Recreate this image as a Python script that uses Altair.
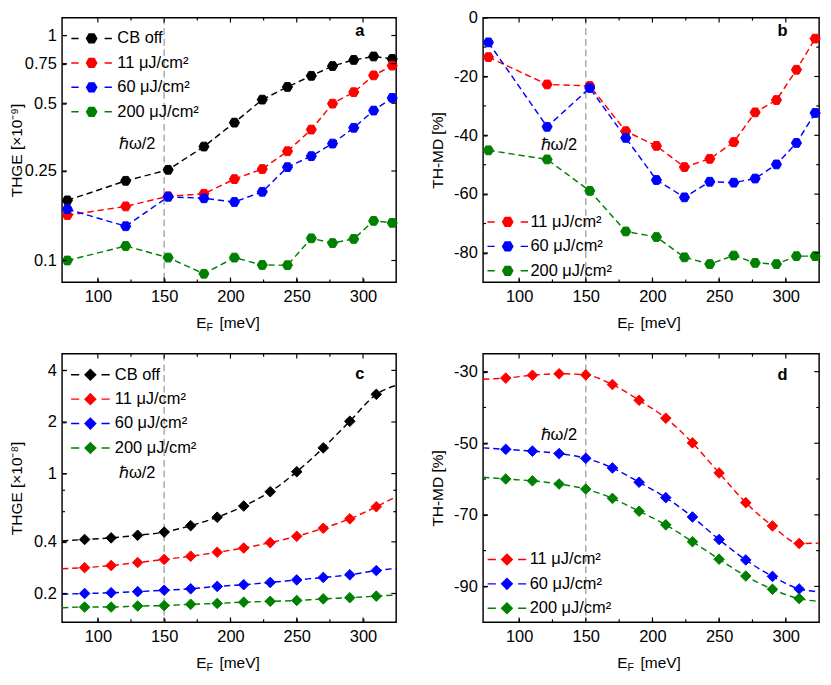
import altair as alt
import pandas as pd

FONT = "Liberation Sans"
SERIES = ["CB off", "11 μJ/cm²", "60 μJ/cm²", "200 μJ/cm²"]
COLORS = ["#000000", "#ff0000", "#0000ff", "#008000"]

# ---- panel a / b (measured) ----
ef_ab = [77, 121, 153, 180, 203, 224, 243, 261, 277, 293, 308, 322]
thge_a_off = [0.185, 0.226, 0.253, 0.321, 0.410, 0.519, 0.591, 0.662, 0.732, 0.779, 0.807, 0.787]
thge_a_11 = [0.159, 0.174, 0.193, 0.198, 0.230, 0.255, 0.306, 0.382, 0.498, 0.560, 0.665, 0.735]
thge_a_60 = [0.169, 0.142, 0.192, 0.189, 0.182, 0.202, 0.260, 0.291, 0.331, 0.389, 0.464, 0.528]
thge_a_200 = [0.100, 0.116, 0.103, 0.0873, 0.103, 0.0955, 0.0953, 0.1255, 0.1195, 0.1247, 0.150, 0.147]
md_b_11 = [-13.4, -22.7, -23.2, -38.6, -43.6, -50.8, -48.0, -42.3, -32.2, -28.0, -17.7, -7.1]
md_b_60 = [-8.4, -37.1, -23.9, -40.9, -55.2, -61.1, -55.8, -56.1, -54.7, -49.9, -42.6, -32.4]
md_b_200 = [-45.1, -48.2, -58.9, -72.7, -74.6, -81.5, -83.8, -80.9, -83.4, -83.8, -81.1, -81.1]

# ---- panel c / d (calculated) ----
ef_cd = [90, 110, 130, 150, 170, 190, 210, 230, 250, 270, 290, 310]
ef_cd_ends = [73, 325]
thge_c_off = [0.413, 0.422, 0.437, 0.456, 0.497, 0.557, 0.647, 0.784, 1.026, 1.413, 2.02, 2.90]
thge_c_11 = [0.283, 0.291, 0.303, 0.316, 0.330, 0.348, 0.368, 0.396, 0.431, 0.480, 0.545, 0.641]
thge_c_60 = [0.200, 0.202, 0.205, 0.209, 0.213, 0.220, 0.225, 0.232, 0.240, 0.248, 0.257, 0.272]
thge_c_200 = [0.1667, 0.1667, 0.169, 0.170, 0.173, 0.175, 0.178, 0.180, 0.182, 0.186, 0.189, 0.193]
thge_c_off_ends = [0.405, 3.27]
thge_c_11_ends = [0.279, 0.735]
thge_c_60_ends = [0.198, 0.280]
thge_c_200_ends = [0.165, 0.196]
md_d_11 = [-31.8, -31.0, -30.6, -30.9, -33.6, -38.0, -43.0, -49.9, -58.3, -66.6, -73.1, -78.0]
md_d_60 = [-51.7, -52.2, -52.9, -54.2, -56.9, -60.9, -65.2, -70.6, -76.9, -82.6, -87.2, -90.7]
md_d_200 = [-60.0, -60.5, -61.4, -62.8, -65.4, -69.0, -72.8, -77.5, -82.4, -87.1, -90.8, -93.4]
md_d_11_ends = [-32.1, -77.9]
md_d_60_ends = [-51.3, -91.5]
md_d_200_ends = [-59.5, -94.2]

# ---- tick values ----
X_MAJOR = [100, 150, 200, 250, 300]
X_MINOR = [125, 175, 225, 275]
Y_A_MAJOR = [0.1, 0.25, 0.5, 0.75, 1]
Y_B_LABELS = [-80, -60, -40, -20, 0]
Y_B_MAJOR = [-80, -60, -40, -20]
Y_B_MINOR = [-70, -50, -30, -10]
Y_C_MAJOR = [0.2, 0.4, 1, 2, 4]
Y_C_MINOR = [0.6, 0.8]
Y_D_MAJOR = [-90, -70, -50, -30]
Y_D_MINOR = [-80, -60, -40]

HEX = "M-1,0L-0.5,-0.866L0.5,-0.866L1,0L0.5,0.866L-0.5,0.866Z"
DIAM = "M-1,0L0,-1L1,0L0,1Z"
HEX_LEG = "M-4,0H-2.56M2.56,0H4" + HEX
DIAM_LEG = "M-3.65,0H-2.1M2.1,0H3.65" + DIAM


def long_df(xs, named):
    rows = []
    for name, vals in named:
        for x, v in zip(xs, vals):
            rows.append({"x": x, "y": v, "s": name})
    return pd.DataFrame(rows)


def with_ends(vals, ends):
    return [ends[0]] + list(vals) + [ends[1]]


def tick_layers(sx, sy, ymajor, yminor, W, H):
    out = []
    for vals, ln in ((X_MAJOR, 5), (X_MINOR, 3)):
        df = pd.DataFrame({"v": vals})
        base = alt.Chart(df).mark_rule(color="black", strokeWidth=1.2)
        out.append(base.encode(x=alt.X("v:Q", scale=sx, axis=None), y=alt.value(H), y2=alt.value(H - ln)))
        out.append(base.encode(x=alt.X("v:Q", scale=sx, axis=None), y=alt.value(0), y2=alt.value(ln)))
    for vals, ln in ((ymajor, 5), (yminor, 3)):
        if not vals:
            continue
        df = pd.DataFrame({"v": vals})
        base = alt.Chart(df).mark_rule(color="black", strokeWidth=1.2)
        out.append(base.encode(y=alt.Y("v:Q", scale=sy, axis=None), x=alt.value(0), x2=alt.value(ln)))
        out.append(base.encode(y=alt.Y("v:Q", scale=sy, axis=None), x=alt.value(W), x2=alt.value(W - ln)))
    return out


def panel(pts, line, series, ylog, ydom, ylabels, ymajor, yminor, ytitle, shape, legshape,
          msize, leg, ann_y, letter, letter_y, W, H, interp):
    sx = alt.Scale(domain=[73, 325], nice=False, zero=False)
    if ylog:
        sy = alt.Scale(type="log", domain=ydom, nice=False)
    else:
        sy = alt.Scale(domain=ydom, nice=False, zero=False)
    colors = [COLORS[SERIES.index(s)] for s in series]
    sc = alt.Scale(domain=series, range=colors)

    common = dict(grid=False, domain=False, offset=-4, tickSize=4, tickColor="black", tickWidth=1.2)
    ax_b = alt.Axis(orient="bottom", values=X_MAJOR, title=None, labelPadding=7,
                    labelExpr="'' + datum.value", **common)
    ax_l = alt.Axis(orient="left", values=ylabels, labelExpr="'' + datum.value", title=ytitle,
                    labelPadding=6, titleX=-43, titleY=H / 2, titleAngle=270,
                    titleBaseline="bottom", titleAlign="center", **common)

    rule = alt.Chart(pd.DataFrame({"x": [150]})).mark_rule(
        color="#a8a8a8", strokeDash=[7, 4], strokeWidth=1.5
    ).encode(x=alt.X("x:Q", scale=sx, axis=None))

    legend = alt.Legend(
        orient="none", legendX=0, legendY=leg["y"], title=None,
        symbolType=legshape, symbolSize=msize, symbolStrokeWidth=1.5,
        symbolOffset=leg["so"], labelOffset=leg["lo"], labelFont=FONT,
        labelFontSize=17, labelColor="black", rowPadding=7.3, padding=0,
        symbolOpacity=1, labelLimit=300, direction="vertical",
    )

    lines = alt.Chart(line).mark_line(
        strokeDash=[6.5, 4], strokeWidth=1.5, interpolate=interp
    ).encode(
        x=alt.X("x:Q", scale=sx, axis=ax_b),
        y=alt.Y("y:Q", scale=sy, axis=ax_l),
        stroke=alt.Stroke("s:N", scale=sc, legend=legend),
    )

    points = alt.Chart(pts).mark_point(
        shape=shape, size=msize, filled=True, opacity=1, strokeWidth=1
    ).encode(
        x=alt.X("x:Q", scale=sx, axis=None),
        y=alt.Y("y:Q", scale=sy, axis=None),
        fill=alt.Fill("s:N", scale=sc, legend=legend),
        stroke=alt.Stroke("s:N", scale=sc, legend=legend),
    )

    ann = alt.Chart(pd.DataFrame({"x": [150], "y": [ann_y], "t": ["ℏω/2"]})).mark_text(
        align="right", baseline="middle", dx=-9, font=FONT, fontSize=17, color="black"
    ).encode(x=alt.X("x:Q", scale=sx, axis=None), y=alt.Y("y:Q", scale=sy, axis=None), text="t:N")

    lab = alt.Chart(pd.DataFrame({"x": [297.6], "y": [letter_y], "t": [letter]})).mark_text(
        align="center", baseline="middle", font=FONT, fontSize=17, fontWeight="bold", color="black"
    ).encode(x=alt.X("x:Q", scale=sx, axis=None), y=alt.Y("y:Q", scale=sy, axis=None), text="t:N")

    def txt(t, xpos, ypos, size):
        return alt.Chart(pd.DataFrame({"t": [t]})).mark_text(
            align="left", baseline="alphabetic", font=FONT, fontSize=size, color="black"
        ).encode(x=alt.value(xpos), y=alt.value(ypos), text="t:N")

    xt = [txt("E", 139, H + 47, 16), txt("F", 149.5, H + 50.5, 11), txt("[meV]", 163, H + 47, 16)]
    layers = [rule, lines, points, ann, lab, *xt, *tick_layers(sx, sy, ymajor, yminor, W, H)]
    return alt.layer(*layers).resolve_axis(x="independent", y="independent").properties(width=W, height=H)


W1, W2 = 346, 348
H1, H2 = 274, 278

pts_a = long_df(ef_ab, [(SERIES[0], thge_a_off), (SERIES[1], thge_a_11), (SERIES[2], thge_a_60), (SERIES[3], thge_a_200)])
pts_b = long_df(ef_ab, [(SERIES[1], md_b_11), (SERIES[2], md_b_60), (SERIES[3], md_b_200)])
pts_c = long_df(ef_cd, [(SERIES[0], thge_c_off), (SERIES[1], thge_c_11), (SERIES[2], thge_c_60), (SERIES[3], thge_c_200)])
x_line = with_ends(ef_cd, ef_cd_ends)
line_c = long_df(x_line, [
    (SERIES[0], with_ends(thge_c_off, thge_c_off_ends)),
    (SERIES[1], with_ends(thge_c_11, thge_c_11_ends)),
    (SERIES[2], with_ends(thge_c_60, thge_c_60_ends)),
    (SERIES[3], with_ends(thge_c_200, thge_c_200_ends)),
])
pts_d = long_df(ef_cd, [(SERIES[1], md_d_11), (SERIES[2], md_d_60), (SERIES[3], md_d_200)])
line_d = long_df(x_line, [
    (SERIES[1], with_ends(md_d_11, md_d_11_ends)),
    (SERIES[2], with_ends(md_d_60, md_d_60_ends)),
    (SERIES[3], with_ends(md_d_200, md_d_200_ends)),
])

a = panel(pts_a, pts_a, SERIES, True, [0.08, 1.2], Y_A_MAJOR, Y_A_MAJOR, [],
          "THGE [×10⁻⁹]", HEX, HEX_LEG, 110,
          {"y": 13, "so": 22.1, "lo": 18.1}, 0.33, "a", 1.043, W1, H1, "linear")
b = panel(pts_b, pts_b, SERIES[1:], False, [-90, 0], Y_B_LABELS, Y_B_MAJOR, Y_B_MINOR,
          "TH-MD [%]", HEX, HEX_LEG, 110,
          {"y": H1 - 71, "so": 17, "lo": 15}, -43.4, "b", -4.5, W2, H1, "linear")
c = panel(pts_c, line_c, SERIES, True, [0.136, 5.0], Y_C_MAJOR, Y_C_MAJOR, Y_C_MINOR,
          "THGE [×10⁻⁸]", "diamond", DIAM_LEG, 120,
          {"y": 13.2, "so": 20.8, "lo": 16.8}, 1.0, "c", 3.8, W1, H2, "monotone")
d = panel(pts_d, line_d, SERIES[1:], False, [-100, -25], Y_D_MAJOR, Y_D_MAJOR, Y_D_MINOR,
          "TH-MD [%]", "diamond", DIAM_LEG, 120,
          {"y": H2 - 73.5, "so": 16.2, "lo": 15}, -47.7, "d", -31, W2, H2, "monotone")

res = dict(fill="independent", stroke="independent")
row1 = alt.hconcat(a, b, spacing=30).resolve_scale(**res)
row2 = alt.hconcat(c, d, spacing=30).resolve_scale(**res)
chart = alt.vconcat(row1, row2, spacing=18).resolve_scale(**res).properties(
    padding={"top": -12, "left": 0, "right": 0, "bottom": 0}
).configure_view(
    stroke="black", strokeWidth=1.5
).configure_axis(
    labelFont=FONT, labelFontSize=17, labelColor="black",
    titleFont=FONT, titleFontSize=16, titleFontWeight="normal", titleColor="black",
)

chart.save("out.html", embed_options={"renderer": "svg", "actions": False})
